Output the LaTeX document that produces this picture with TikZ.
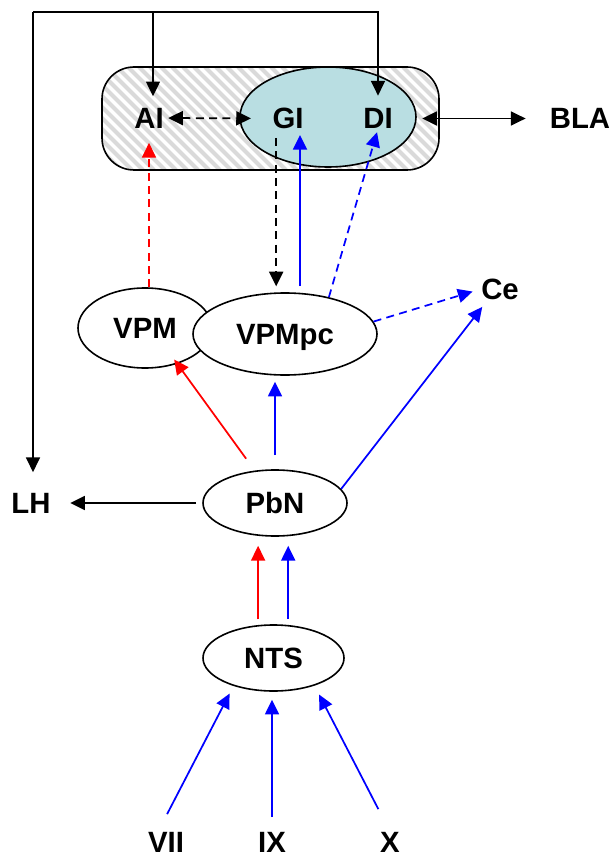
\documentclass[tikz,border=0pt]{standalone}
\usepackage{fontspec}
\setmainfont{Liberation Sans}
\usepackage{xcolor}
\usetikzlibrary{arrows.meta,shapes.geometric}
\definecolor{insula}{RGB}{185,222,226}
\definecolor{hatchgray}{RGB}{218,218,218}
\definecolor{abl}{RGB}{0,0,255}

\begin{document}
\begin{tikzpicture}[x=0.75pt,y=-0.75pt,
	lbl/.style={inner sep=0pt,text depth=0pt,font=\fontsize{22}{26}\selectfont\bfseries},
	nucl/.style={ellipse,draw,line width=1.2pt,fill=white,inner sep=0pt,text depth=0pt,font=\fontsize{22}{26}\selectfont\bfseries},
	arr/.style={line width=1.3pt,-{Triangle[length=11pt,width=10.5pt]}},
	darr/.style={line width=1.3pt,{Triangle[length=11pt,width=10.5pt]}-{Triangle[length=11pt,width=10.5pt]}},
	dsh/.style={dash pattern=on 6pt off 4pt}]
	\useasboundingbox (0,0) rectangle (616,859);
	
	% insular cortex
	\begin{scope}
		\clip[rounded corners=24pt] (102,67) rectangle (439,170);
		\foreach \k in {-4,7,...,450}
		\draw[hatchgray,line width=3pt] (\k,67) -- ++(103,103);
	\end{scope}
	\draw[line width=1.2pt,rounded corners=24pt] (102,67) rectangle (439,170);
	\node[nucl,fill=insula,minimum width=132pt,minimum height=75pt] (GDI) at (328,117) {};
	
	\node[lbl] (AI) at (149,118) {AI};
	\node[lbl] (GI) at (288,118.5) {GI};
	\node[lbl] (DI) at (378,118.5) {DI};
	\node[lbl] (BLA) at (580,118.5) {BLA};
	\node[nucl,minimum width=100.5pt,minimum height=60pt] (VPM) at (145,328) {VPM};
	\node[nucl,minimum width=138pt,minimum height=61.5pt] (VPMpc) at (285,334) {VPMpc};
	\node[lbl] (Ce) at (500,289) {Ce};
	\node[nucl,minimum width=108pt,minimum height=49.5pt] (PbN) at (275,503) {PbN};
	\node[lbl] (LH) at (31,503) {LH};
	\node[nucl,minimum width=105.75pt,minimum height=49.5pt] (NTS) at (273.5,658) {NTS};
	\node[lbl] (VII) at (166,842) {VII};
	\node[lbl] (IX) at (272,842) {IX};
	\node[lbl] (X) at (390,842) {X};
	
	\coordinate (tl) at (33,12);
	\coordinate (ain) at ([xshift=3pt]AI.north);
	\draw[arr,shorten >=15.4pt] (tl) -- (tl |- LH.north);
	\draw[arr,shorten >=9.4pt] (tl) -- (tl -| DI.north) -- (DI.north);
	\draw[arr,shorten >=8.6pt] (ain |- tl) -- (ain);
	
	\draw[darr,dsh,shorten <=3.2pt,shorten >=16pt] (AI.east) -- (GI.west);
	\draw[darr,shorten <=22pt,shorten >=18pt] (DI.east) -- (DI.east -| BLA.west);
	
	\draw[arr,dsh,red,shorten >=10.9pt] (AI.south |- VPM.north) -- (AI.south);
	\draw[arr,dsh,shorten <=6.7pt,shorten >=4.5pt] (VPMpc.102 |- GI.south) -- (VPMpc.102);
	\draw[arr,abl,shorten <=4.9pt,shorten >=4.5pt] (VPMpc.70) -- (VPMpc.70 |- GI.south);
	\draw[arr,abl,dsh,shorten >=2.6pt] (VPMpc.40) -- (DI.south);
	\draw[arr,abl,dsh,shorten >=6.6pt] (VPMpc.8) -- (Ce.west);
	
	\draw[arr,abl,shorten >=7pt] (PbN.12) -- ([xshift=-9pt]Ce.south);
	\draw[arr,red,shorten <=11pt,shorten >=-4pt] (PbN.122) -- (VPM.312);
	\draw[arr,abl,shorten <=10.5pt,shorten >=4.5pt] (PbN.north) -- (PbN.north |- VPMpc.south);
	\draw[arr,shorten <=4.5pt,shorten >=14.6pt] (PbN.west) -- (LH.east);
	
	\draw[arr,red,shorten <=4.3pt,shorten >=6.8pt] (NTS.115) -- (NTS.115 |- PbN.south);
	\draw[arr,abl,shorten <=4.3pt,shorten >=6.8pt] (NTS.66) -- (NTS.66 |- PbN.south);
	
	\draw[arr,abl,shorten <=14.8pt,shorten >=6.4pt] ([xshift=-6pt]VII.north) -- (NTS.215);
	\draw[arr,abl,shorten <=10.9pt,shorten >=6pt] (IX.north) -- (IX.north |- NTS.south);
	\draw[arr,abl,shorten <=19pt,shorten >=7.5pt] (X.north) -- (NTS.326);
\end{tikzpicture}
\end{document}
